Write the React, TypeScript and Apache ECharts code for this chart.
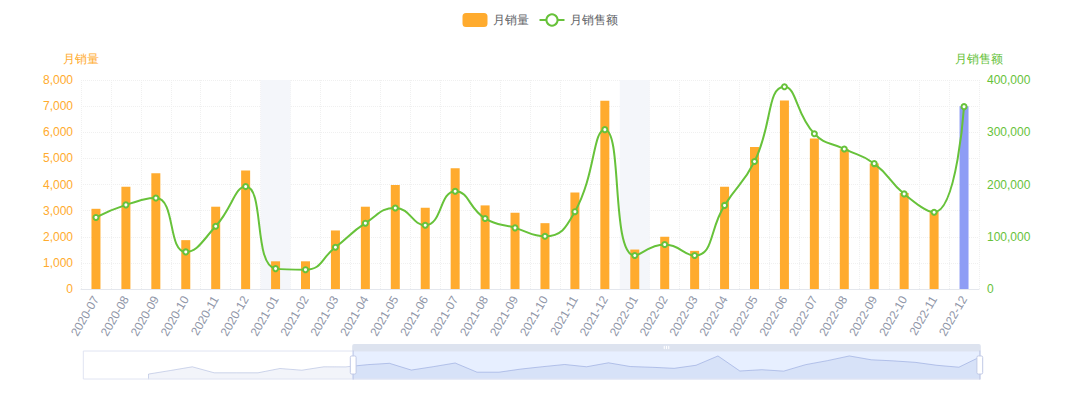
import React, { useEffect, useRef } from "react";
import * as echarts from "echarts";

const categories = [
  "2019-07", "2019-08", "2019-09", "2019-10", "2019-11", "2019-12",
  "2020-01", "2020-02", "2020-03", "2020-04", "2020-05", "2020-06",
  "2020-07", "2020-08", "2020-09", "2020-10", "2020-11", "2020-12",
  "2021-01", "2021-02", "2021-03", "2021-04", "2021-05", "2021-06",
  "2021-07", "2021-08", "2021-09", "2021-10", "2021-11", "2021-12",
  "2022-01", "2022-02", "2022-03", "2022-04", "2022-05", "2022-06",
  "2022-07", "2022-08", "2022-09", "2022-10", "2022-11", "2022-12",
];

// 月销量 (left axis)
const salesVolume: (number | null)[] = [
  null, null, null, 350, 1700, 3100,
  830, 830, 830, 2460, 1810, 3100,
  3070, 3910, 4430, 1870, 3150, 4540,
  1060, 1060, 2240, 3150, 3980, 3110,
  4620, 3200, 2920, 2520, 3690, 7210,
  1510, 2000, 1460, 3910, 5440, 7220,
  5760, 5350, 4800, 3670, 2950, 7000,
];

// 月销售额 (right axis)
const salesAmount: (number | null)[] = [
  null, null, null, 15000, 72000, 140000,
  38000, 36000, 40000, 105000, 80000, 135000,
  137000, 161000, 174000, 71000, 120000, 196000,
  39000, 37000, 80000, 126000, 155000, 122000,
  187000, 135000, 117000, 101000, 148000, 305000,
  64000, 85000, 64000, 160000, 244000, 387000,
  297000, 268000, 240000, 182000, 147000, 349000,
];

// shaded year-start months
const shadedMonths = ["2021-01", "2022-01"];

const leftTicks = { min: 0, max: 8000, interval: 1000 };
const rightTicks = { min: 0, max: 400000, interval: 100000 };

const ORANGE = "#FFAB2E";
const GREEN = "#67C23A";
const LAST_BAR = "#8E9DF5";
const BAND = "#F4F6FA";

export default function App() {
  const ref = useRef<HTMLDivElement>(null);

  useEffect(() => {
    if (!ref.current) return;
    const chart = echarts.init(ref.current, undefined, { renderer: "svg" });

    const barData = salesVolume.map((v, i) =>
      i === salesVolume.length - 1 ? { value: v, itemStyle: { color: LAST_BAR } } : v
    );
    const bandData = categories.map((c) => (shadedMonths.includes(c) ? leftTicks.max : null));

    chart.setOption({
      animation: false,
      legend: {
        top: 8,
        left: "center",
        data: ["月销量", "月销售额"],
        itemWidth: 25,
        itemHeight: 14,
        itemGap: 10,
        textStyle: { color: "#606266", fontSize: 12 },
      },
      grid: { left: 81, right: 101, top: 80, bottom: 118, containLabel: false },
      xAxis: [
        {
          type: "category",
          data: categories,
          axisLine: { lineStyle: { color: "#E4E7ED" } },
          axisTick: { lineStyle: { color: "#E4E7ED" } },
          axisLabel: { color: "#8F96A8", rotate: 60, fontSize: 12, interval: 0 },
          splitLine: { show: true, lineStyle: { color: "#F0F0F0", type: "dotted" } },
        },
        {
          type: "category",
          data: categories,
          show: false,
        },
      ],
      yAxis: [
        {
          type: "value",
          name: "月销量",
          min: leftTicks.min,
          max: leftTicks.max,
          interval: leftTicks.interval,
          nameTextStyle: { color: ORANGE, fontSize: 12 },
          axisLabel: { color: ORANGE, fontSize: 12 },
          axisLine: { show: false },
          splitLine: { lineStyle: { color: "#F0F0F0", type: "dotted" } },
        },
        {
          type: "value",
          name: "月销售额",
          min: rightTicks.min,
          max: rightTicks.max,
          interval: rightTicks.interval,
          nameTextStyle: { color: GREEN, fontSize: 12 },
          axisLabel: { color: GREEN, fontSize: 12 },
          axisLine: { show: false },
          splitLine: { show: false },
        },
      ],
      dataZoom: [
        {
          type: "slider",
          xAxisIndex: [0, 1],
          start: 30,
          end: 100,
          left: 80,
          right: 102,
          top: 344,
          height: 29,
          moveHandleStyle: { color: "#DDE3EF", opacity: 1 },
        },
      ],
      series: [
        {
          name: "月销量",
          type: "bar",
          xAxisIndex: 0,
          yAxisIndex: 0,
          barWidth: 9,
          itemStyle: { color: ORANGE },
          data: barData,
          z: 2,
        },
        {
          name: "月销售额",
          type: "line",
          xAxisIndex: 0,
          yAxisIndex: 1,
          smooth: true,
          symbol: "emptyCircle",
          symbolSize: 5,
          itemStyle: { color: GREEN },
          lineStyle: { color: GREEN, width: 2 },
          data: salesAmount,
          z: 3,
        },
        {
          name: "band",
          type: "bar",
          xAxisIndex: 1,
          yAxisIndex: 0,
          barWidth: "100%",
          silent: true,
          itemStyle: { color: BAND },
          data: bandData,
          z: 1,
        },
      ],
    });

    return () => chart.dispose();
  }, []);

  return (
    <div
      ref={ref}
      style={{ position: "fixed", left: 0, top: 0, width: 1080, height: 407, background: "#fff" }}
    />
  );
}
